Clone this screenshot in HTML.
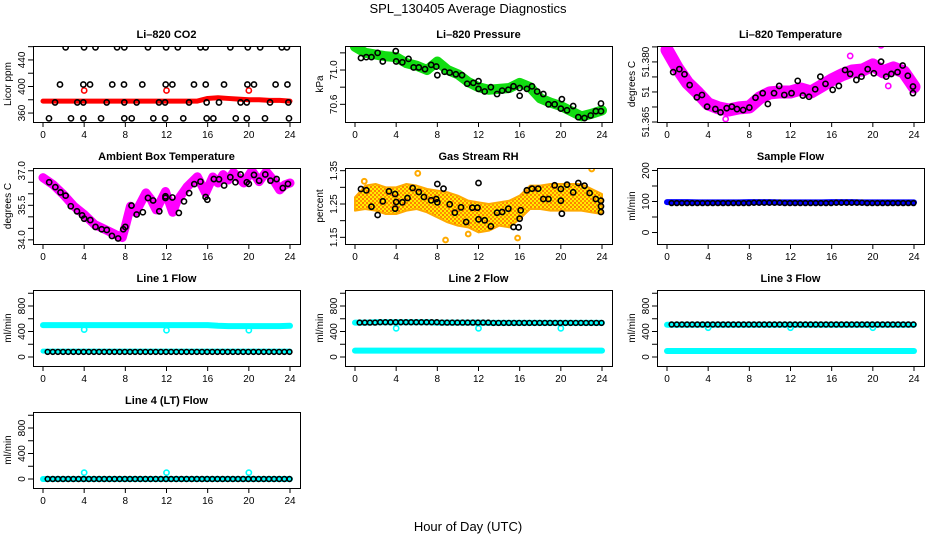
<!DOCTYPE html>
<html><head><meta charset="utf-8"><title>SPL_130405 Average Diagnostics</title>
<style>
html,body{margin:0;padding:0;background:#fff;}
svg{display:block;font-family:"Liberation Sans",Arial,sans-serif;}
</style></head>
<body>
<svg id="chart" width="936" height="540" viewBox="0 0 936 540" xmlns="http://www.w3.org/2000/svg">
<defs>
<pattern id="rhpat" width="4" height="4" patternUnits="userSpaceOnUse">
<rect width="4" height="4" fill="#ffee00"/>
<circle cx="1" cy="1" r="1.1" fill="#ff8800"/>
<circle cx="3" cy="3" r="0.9" fill="#ff3300"/>
</pattern>
</defs>
<text x="468" y="13" text-anchor="middle" font-size="13">SPL_130405  Average Diagnostics</text>
<text x="468" y="531" text-anchor="middle" font-size="13">Hour of Day (UTC)</text>
</svg>
<script>
// ---------- data ----------
const hourTicks = [0,4,8,12,16,20,24];
const hourly = [0,1,2,3,4,5,6,7,8,9,10,11,12,13,14,15,16,17,18,19,20,21,22,23,24];

// CO2
const co2BlackHours = [2.2,3.99,5.1,7.2,7.9,10.2,11.96,13.1,15.3,15.8,18.2,19.9,21.1,23.2,23.7,
  1.65,3.92,4.57,6.73,7.87,9.65,11.92,12.57,14.67,15.81,17.59,19.86,20.5,22.6,23.75,
  1.17,3.33,3.92,6.19,7.9,9.1,11.27,11.86,14.19,15.9,17.1,19.2,19.8,22.06,23.84,
  0.58,2.72,3.92,5.64,7.9,8.62,10.72,11.86,13.63,15.9,16.55,18.73,19.8,21.57,23.9];
const co2BlackVals = [459,459,459,459,459,459,459,459,459,459,459,459,459,459,459,
  403,403,403,403,403,403,403,403,403,403,403,403,403,403,403,
  376,376,376,376,376,376,376,376,376,376,376,376,376,376,376,
  352,352,352,352,352,352,352,352,352,352,352,352,352,352,352];
const co2Red = [378,378,378,378,378,378,378,378,378,378,378,378,378,378,378,378,382,383,382,381,380,380,379,379,378];
const co2RedOutHours = [4,12,20];
const co2RedOutVals = [394,394,394];

// Pressure
const presGreen = [71.27,71.2,71.18,71.16,71.15,71.08,71.05,71.0,71.1,71.0,70.95,70.86,70.8,70.77,70.78,70.79,70.85,70.8,70.67,70.62,70.58,70.52,70.46,70.49,70.53];
const presBlackHours = [0.58,1.1,1.6,2.2,2.7,3.96,4.0,4.6,5.2,5.7,6.2,6.8,7.4,7.9,8.0,8.7,9.2,9.8,10.4,10.9,11.5,12.0,12.0,12.6,13.2,13.8,14.3,14.9,15.4,16.0,16.0,16.7,17.2,17.7,18.3,18.8,19.4,20.1,20.0,20.6,21.2,21.7,22.3,22.9,23.4,23.9,23.9];
const presBlackVals = [71.14,71.15,71.15,71.2,71.1,71.22,71.1,71.09,71.13,71.03,71.03,71.01,71.06,71.04,70.94,70.98,70.97,70.95,70.94,70.84,70.85,70.87,70.78,70.75,70.8,70.72,70.76,70.77,70.81,70.79,70.7,70.78,70.81,70.75,70.72,70.6,70.6,70.66,70.55,70.53,70.58,70.45,70.44,70.47,70.52,70.61,70.52];

// Li-820 temperature
const tempMagenta = [51.389,51.383,51.378,51.3747,51.371,51.3697,51.369,51.3697,51.370,51.373,51.3747,51.375,51.375,51.376,51.375,51.377,51.379,51.3807,51.382,51.3823,51.384,51.3817,51.383,51.3817,51.3767];
const tempOutHours = [0.1,20.8,17.8,21.5,5.7];
const tempOutVals = [51.3905,51.3905,51.387,51.377,51.366];
const tempBlackHours = [0.6,1.2,1.7,2.2,2.9,3.4,3.9,4.7,5.2,5.8,6.3,6.8,7.4,8.0,8.6,9.3,9.8,10.4,10.9,11.4,12.1,12.7,13.2,13.8,14.4,14.9,15.4,16.1,16.7,17.3,17.8,18.4,18.9,19.5,20.1,20.8,21.3,21.8,22.4,22.9,23.4,23.9,23.9];
const tempBlackVals = [51.3816,51.3826,51.3809,51.3773,51.3732,51.374,51.3701,51.3693,51.3682,51.3696,51.3701,51.3693,51.369,51.3698,51.3731,51.3746,51.371,51.3746,51.377,51.374,51.3746,51.3787,51.3738,51.3734,51.3759,51.3801,51.3777,51.3757,51.377,51.3823,51.381,51.379,51.3801,51.3826,51.3812,51.3851,51.3801,51.381,51.3816,51.3838,51.3804,51.3768,51.3746];

// Ambient box temperature
const ambHours = [0,1,2,3,4,5,6,7,7.7,8,8.5,9,10,10.5,11,11.9,12.6,13,14,15,15.8,16.5,17,17.5,18,18.5,19.5,20.3,21,21.7,22.5,23,23.5,24];
const ambMagenta = [36.7,36.39,35.96,35.46,35.1,34.67,34.46,34.24,34.1,34.58,35.46,35.19,36.04,35.75,35.3,36.1,35.2,35.67,36.3,36.74,36.04,36.73,36.47,36.83,36.6,36.93,36.47,37.0,36.53,36.96,36.53,36.17,36.39,36.47];
const ambBlackHours = [0.6,1.2,1.7,2.2,2.7,3.3,3.8,4.0,4.6,5.1,5.7,6.2,6.7,7.3,7.8,8.0,8.6,9.1,9.7,10.2,10.7,11.3,11.9,11.9,12.57,13.2,13.7,14.2,14.7,15.3,15.8,15.97,16.6,17.1,17.6,18.2,18.7,19.2,19.8,20.0,20.5,21.0,21.6,22.1,22.7,23.3,23.8];
const ambBlackVals = [36.5,36.29,36.06,35.92,35.46,35.24,35.06,34.92,34.86,34.56,34.46,34.43,34.17,34.06,34.46,34.56,35.49,35.1,35.2,35.82,35.71,35.24,35.82,35.89,35.84,35.17,35.67,36.03,36.42,36.53,35.86,35.74,36.64,36.63,36.36,36.72,36.5,36.84,36.5,36.43,36.82,36.57,36.84,36.57,36.64,36.25,36.43];

// Gas stream RH
const rhMean = [1.25,1.27,1.27,1.26,1.26,1.27,1.27,1.26,1.25,1.24,1.23,1.22,1.21,1.21,1.22,1.22,1.24,1.27,1.27,1.27,1.27,1.27,1.27,1.26,1.25];
const rhSpread = [0.02,0.035,0.04,0.04,0.04,0.04,0.035,0.035,0.04,0.045,0.045,0.04,0.045,0.04,0.035,0.04,0.035,0.035,0.035,0.04,0.04,0.04,0.04,0.035,0.03];
const rhOutHours = [6.1,23.0,8.8,15.8,11.0,0.9];
const rhOutVals = [1.342,1.355,1.142,1.148,1.16,1.318];
const rhBlackHours = [0.58,1.1,1.6,2.2,2.7,3.3,3.9,3.9,4.0,4.6,5.1,5.6,6.2,6.7,7.4,7.9,8.0,8.0,8.6,9.2,9.7,10.3,10.8,11.4,11.9,12.0,12.0,12.6,13.2,13.8,14.3,14.9,15.4,15.9,16.0,16.1,16.7,17.2,17.8,18.3,18.8,19.4,20.0,20.0,20.1,20.6,21.2,21.7,22.3,22.8,23.4,23.9,23.9,23.9];
const rhBlackVals = [1.295,1.291,1.242,1.217,1.258,1.288,1.28,1.236,1.256,1.255,1.268,1.298,1.286,1.271,1.261,1.265,1.31,1.255,1.296,1.249,1.224,1.24,1.196,1.239,1.239,1.313,1.204,1.201,1.183,1.224,1.226,1.236,1.181,1.18,1.206,1.231,1.291,1.296,1.296,1.265,1.265,1.306,1.295,1.26,1.221,1.308,1.285,1.313,1.305,1.283,1.265,1.26,1.243,1.226];

// Sample flow
const sampleBlue = [98,98,98,97,97,97,97,97,98,98,98,97,97,97,97,97,98,98,98,97,97,97,97,97,97];
const sampleBlack = [95,95,95,95,95,95,95,95,96,96,96,95,95,95,95,95,96,96,96,95,95,95,95,95];

// Line flows
const l1CyanHi = [500,500,500,500,500,500,500,500,500,500,500,500,500,500,500,500,500,490,485,485,485,485,485,485,490];
const l1CyanLo = [92,92,92,92,92,92,92,92,92,92,92,92,92,92,92,92,92,92,92,92,92,92,92,92,92];
const l1Black = [80,80,80,80,80,80,80,80,80,80,80,80,80,80,80,80,80,80,80,80,80,80,80,80];
const l1DipVals = [430,420,420];
const l2CyanHi = [540,540,545,545,545,545,545,545,540,540,540,540,540,535,535,535,535,535,535,535,535,535,535,535,535];
const l2CyanLo = [100,100,100,100,100,100,100,100,100,100,100,100,100,100,100,100,100,100,100,100,100,100,100,100,100];
const l2Black = [540,540,545,545,545,545,545,545,540,540,540,540,540,535,535,535,535,535,535,535,535,535,535,535];
const l2DipVals = [450,450,450];
const l3CyanHi = [505,505,505,505,505,505,505,505,505,505,505,505,505,505,505,505,505,505,505,505,505,505,505,505,505];
const l3CyanLo = [95,95,95,95,95,95,95,95,95,95,95,95,95,95,95,95,95,95,95,95,95,95,95,95,95];
const l3Black = [510,510,510,510,510,510,510,510,510,510,510,510,510,510,510,510,510,510,510,510,510,510,510,510];
const l3DipVals = [460,460,460];
const l4Cyan = [0,0,0,0,0,0,0,0,0,0,0,0,0,0,0,0,0,0,0,0,0,0,0,0,0];
const l4Black = [0,0,0,0,0,0,0,0,0,0,0,0,0,0,0,0,0,0,0,0,0,0,0,0];
const l4DipVals = [100,100,100];
const dipHours = [4,12,20];

// ---------- drawing ----------
const NS = "http://www.w3.org/2000/svg";
const svg = document.getElementById("chart");
function el(tag, attrs, parent) {
  const e = document.createElementNS(NS, tag);
  for (const k in attrs) e.setAttribute(k, attrs[k]);
  (parent || svg).appendChild(e);
  return e;
}
const colX = [33, 345, 657], rowY = [46, 168, 290, 412], PW = 267, PH = 76;

function makePanel(col, row, title, ylab, ymin, ymax, ticks, labels, name) {
  const g = el("g", {});
  
  
  const x0 = colX[col], y0 = rowY[row];
  const xs = h => x0 + 10 + h * (247 / 24);
  const ys = v => y0 + PH * (ymax - v) / (ymax - ymin);
  const t = el("text", {x: x0 + PW / 2, y: y0 - 8, "text-anchor": "middle", "font-size": "11", "font-weight": "bold"}, g);
  t.textContent = title;
  
  
  const yl = el("text", {x: 0, y: 0, "text-anchor": "middle", "font-size": "10", transform: `translate(${x0 - 22},${y0 + PH / 2}) rotate(-90)`}, g);
  yl.textContent = ylab;
  
  
  const gy = el("g", {}, g);
  
  
  ticks.forEach((v, i) => {
    const y = ys(v);
    el("line", {x1: x0 - 5, x2: x0, y1: y, y2: y, stroke: "#000", "stroke-width": 1}, gy);
    if (labels[i]) {
      const tl = el("text", {x: 0, y: 0, "text-anchor": "middle", "font-size": "10", transform: `translate(${x0 - 8},${y}) rotate(-90)`}, gy);
      tl.textContent = labels[i];
      
      
    }
  });
  const gx = el("g", {}, g);
  
  
  hourTicks.forEach(h => {
    const x = xs(h);
    el("line", {x1: x, x2: x, y1: y0 + PH, y2: y0 + PH + 5, stroke: "#000"}, gx);
    const tl = el("text", {x: x, y: y0 + PH + 16, "text-anchor": "middle", "font-size": "10"}, gx);
    tl.textContent = h;
    
    
  });
  const clip = "clip" + name;
  const cp = el("clipPath", {id: clip}, g);
  el("rect", {x: x0, y: y0, width: PW, height: PH}, cp);
  const plot = el("g", {"clip-path": `url(#${clip})`}, g);
  
  
  const box = el("rect", {x: x0 + 0.5, y: y0 + 0.5, width: PW, height: PH, fill: "none", stroke: "#000", "stroke-width": 1}, g);
  
  
  return {xs, ys, plot};
}
function points(p, hours, vals, color, nm, r, sw) {
  hours.forEach((h, i) => {
    const c = el("circle", {cx: p.xs(h), cy: p.ys(vals[i]), r: r || 2.6, fill: "none", stroke: color, "stroke-width": sw || 1.6}, p.plot);
    
    
  });
}
function band(p, hours, vals, color, width, nm) {
  const pts = hours.map((h, i) => p.xs(h) + "," + p.ys(vals[i])).join(" ");
  const pl = el("polyline", {points: pts, fill: "none", stroke: color, "stroke-width": width, "stroke-linejoin": "round", "stroke-linecap": "round"}, p.plot);
  
  
}
function hourlyPoints(p, vals, color, nm) {
  vals.forEach((v, i) => {
    [0.45, 0.95].forEach(off => {
      const c = el("circle", {cx: p.xs(i + off), cy: p.ys(v), r: 2.4, fill: "none", stroke: color, "stroke-width": 1.6}, p.plot);
      
      
    });
  });
}

// CO2
let p = makePanel(0, 0, "Li\u2013820 CO2", "Licor ppm", 346.5, 461, [360,380,400,420,440,460], ["360","","400","","440",""], "co2");
band(p, hourly, co2Red, "#ff0000", 5, "co2-red-band");
points(p, co2RedOutHours, co2RedOutVals, "#ff0000", "co2-red-point");
points(p, co2BlackHours, co2BlackVals, "#000", "co2-black-point");

// Pressure
p = makePanel(1, 0, "Li\u2013820 Pressure", "kPa", 70.394, 71.28, [70.6,70.8,71.0,71.2], ["70.6","","71.0",""], "pressure");
band(p, hourly, presGreen, "#11dd11", 10, "pressure-green-band");
points(p, presBlackHours, presBlackVals, "#000", "pressure-black-point");

// Temperature
p = makePanel(2, 0, "Li\u2013820 Temperature", "degrees C", 51.365, 51.3903, [51.365,51.370,51.375,51.380,51.385,51.390], ["51.365","","51","","51.380",""], "li820-temp");
band(p, hourly, tempMagenta, "#ff00ff", 13, "temp-magenta-band");
points(p, tempOutHours, tempOutVals, "#ff00ff", "temp-magenta-point");
points(p, tempBlackHours, tempBlackVals, "#000", "temp-black-point");

// Ambient
p = makePanel(0, 1, "Ambient Box Temperature", "degrees C", 33.82, 37.12, [34.0,34.5,35.0,35.5,36.0,36.5,37.0], ["34.0","","","35.5","","","37.0"], "ambient");
band(p, ambHours, ambMagenta, "#ff00ff", 9, "ambient-magenta-band");
points(p, ambBlackHours, ambBlackVals, "#000", "ambient-black-point");

// RH
p = makePanel(1, 1, "Gas Stream RH", "percent", 1.130, 1.358, [1.15,1.20,1.25,1.30,1.35], ["1.15","","1.25","","1.35"], "rh");
{
  const top = hourly.map((h, i) => p.xs(h) + "," + p.ys(rhMean[i] + rhSpread[i]));
  const bot = hourly.map((h, i) => p.xs(h) + "," + p.ys(rhMean[i] - rhSpread[i])).reverse();
  const poly = el("polygon", {points: top.concat(bot).join(" "), fill: "url(#rhpat)", stroke: "#ffaa00", "stroke-width": 2, "stroke-linejoin": "round"}, p.plot);
  
  
}
points(p, rhOutHours, rhOutVals, "#ffaa00", "rh-orange-point", 2.4, 2);
points(p, rhBlackHours, rhBlackVals, "#000", "rh-black-point");

// Sample flow
p = makePanel(2, 1, "Sample Flow", "ml/min", -37, 208, [0,50,100,150,200], ["0","","100","","200"], "sample-flow");
band(p, hourly, sampleBlue, "#0000ff", 6, "sample-blue-band");
hourlyPoints(p, sampleBlack, "#000", "sample-black-point");

const flowTicks = [0,200,400,600,800,1000], flowLabels = ["0","","400","","800",""];
// Line 1
p = makePanel(0, 2, "Line 1 Flow", "ml/min", -141, 1051, flowTicks, flowLabels, "line1");
band(p, hourly, l1CyanHi, "#00ffff", 6, "line1-cyan-high");
band(p, hourly, l1CyanLo, "#00ffff", 5, "line1-cyan-low");
points(p, dipHours, l1DipVals, "#00ffff", "line1-cyan-point");
hourlyPoints(p, l1Black, "#000", "line1-black-point");
// Line 2
p = makePanel(1, 2, "Line 2 Flow", "ml/min", -141, 1051, flowTicks, flowLabels, "line2");
band(p, hourly, l2CyanHi, "#00ffff", 6, "line2-cyan-high");
band(p, hourly, l2CyanLo, "#00ffff", 6, "line2-cyan-low");
points(p, dipHours, l2DipVals, "#00ffff", "line2-cyan-point");
hourlyPoints(p, l2Black, "#000", "line2-black-point");
// Line 3
p = makePanel(2, 2, "Line 3 Flow", "ml/min", -141, 1051, flowTicks, flowLabels, "line3");
band(p, hourly, l3CyanHi, "#00ffff", 6, "line3-cyan-high");
band(p, hourly, l3CyanLo, "#00ffff", 6, "line3-cyan-low");
points(p, dipHours, l3DipVals, "#00ffff", "line3-cyan-point");
hourlyPoints(p, l3Black, "#000", "line3-black-point");
// Line 4
p = makePanel(0, 3, "Line 4 (LT) Flow", "ml/min", -141, 1051, flowTicks, flowLabels, "line4");
band(p, hourly, l4Cyan, "#00ffff", 6, "line4-cyan");
points(p, dipHours, l4DipVals, "#00ffff", "line4-cyan-point");
hourlyPoints(p, l4Black, "#000", "line4-black-point");
</script>
</body></html>
